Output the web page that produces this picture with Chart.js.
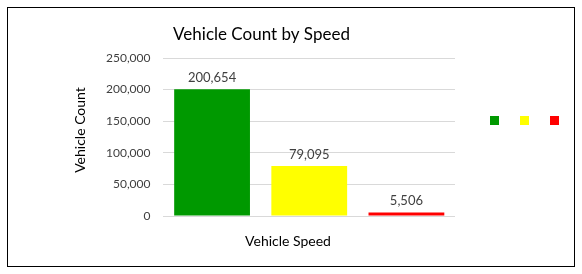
<!DOCTYPE html>
<html>
<head>
  <title>Vehicle Count by Speed</title>
  <script src="https://cdn.jsdelivr.net/npm/chart.js"></script>
  <style>
    body { margin: 0; background: #fff; font-family: Lato, sans-serif; }
    #box { position: absolute; left: 7px; top: 7px; width: 566px; height: 258px; border: 1px solid #000; }
    #chart-container { position: absolute; left: 0; top: 0; width: 566px; height: 258px; }
    #legend { position: absolute; left: 482px; top: 108px; display: flex; gap: 21px; }
    #legend span { display: block; width: 9px; height: 9px; }
  </style>
</head>
<body>
  <div id="box">
    <div id="chart-container"><canvas id="speedChart"></canvas></div>
    <div id="legend"></div>
  </div>

  <script>
    const speedBands = ['Low', 'Medium', 'High'];
    const vehicleCounts = [200654, 79095, 5506];
    const bandColors = ['#009900', '#ffff00', '#ff0000'];
    const yTicks = [0, 50000, 100000, 150000, 200000, 250000];

    // legend: just the colour squares, no text
    const legend = document.getElementById('legend');
    bandColors.forEach(c => {
      const s = document.createElement('span');
      s.style.background = c;
      legend.appendChild(s);
    });

    // value labels above bars, chart title and axis titles (Excel-style placement)
    const extras = {
      id: 'extras',
      afterDatasetsDraw(chart) {
        const ctx = chart.ctx;
        const area = chart.chartArea;
        const yLeft = chart.scales.y.left;
        ctx.save();
        ctx.font = '13px Lato';
        ctx.fillStyle = '#404040';
        ctx.textAlign = 'center';
        ctx.textBaseline = 'bottom';
        chart.getDatasetMeta(0).data.forEach((bar, i) => {
          ctx.fillText(vehicleCounts[i].toLocaleString('en-US'), bar.x, bar.y - 5);
        });
        ctx.fillStyle = '#000';
        ctx.textBaseline = 'middle';
        ctx.font = '17px Lato';
        ctx.fillText('Vehicle Count by Speed', (yLeft - 25 + area.right) / 2, 27);
        ctx.font = '14px Lato';
        ctx.fillText('Vehicle Speed', chart.width / 2 - 3, area.bottom + 25);
        ctx.translate(yLeft - 13, (area.top + area.bottom) / 2 - 7);
        ctx.rotate(-Math.PI / 2);
        ctx.fillText('Vehicle Count', 0, 0);
        ctx.restore();
      }
    };

    new Chart(document.getElementById('speedChart'), {
      type: 'bar',
      data: {
        labels: speedBands,
        datasets: [{
          data: vehicleCounts,
          backgroundColor: bandColors,
          categoryPercentage: 1,
          barPercentage: 0.78
        }]
      },
      options: {
        responsive: true,
        maintainAspectRatio: false,
        animation: false,
        layout: { padding: { top: 50, left: 85, right: 119, bottom: 42 } },
        plugins: {
          legend: { display: false },
          tooltip: { enabled: false }
        },
        scales: {
          x: {
            grid: { display: false },
            border: { display: false },
            ticks: { display: false }
          },
          y: {
            min: 0,
            max: 250000,
            afterBuildTicks: axis => { axis.ticks = yTicks.map(v => ({ value: v })); },
            grid: { color: '#d9d9d9', drawTicks: false },
            border: { display: false },
            ticks: { color: '#404040', font: { family: 'Lato', size: 12 }, padding: 13 }
          }
        }
      },
      plugins: [extras]
    });
  </script>
</body>
</html>
